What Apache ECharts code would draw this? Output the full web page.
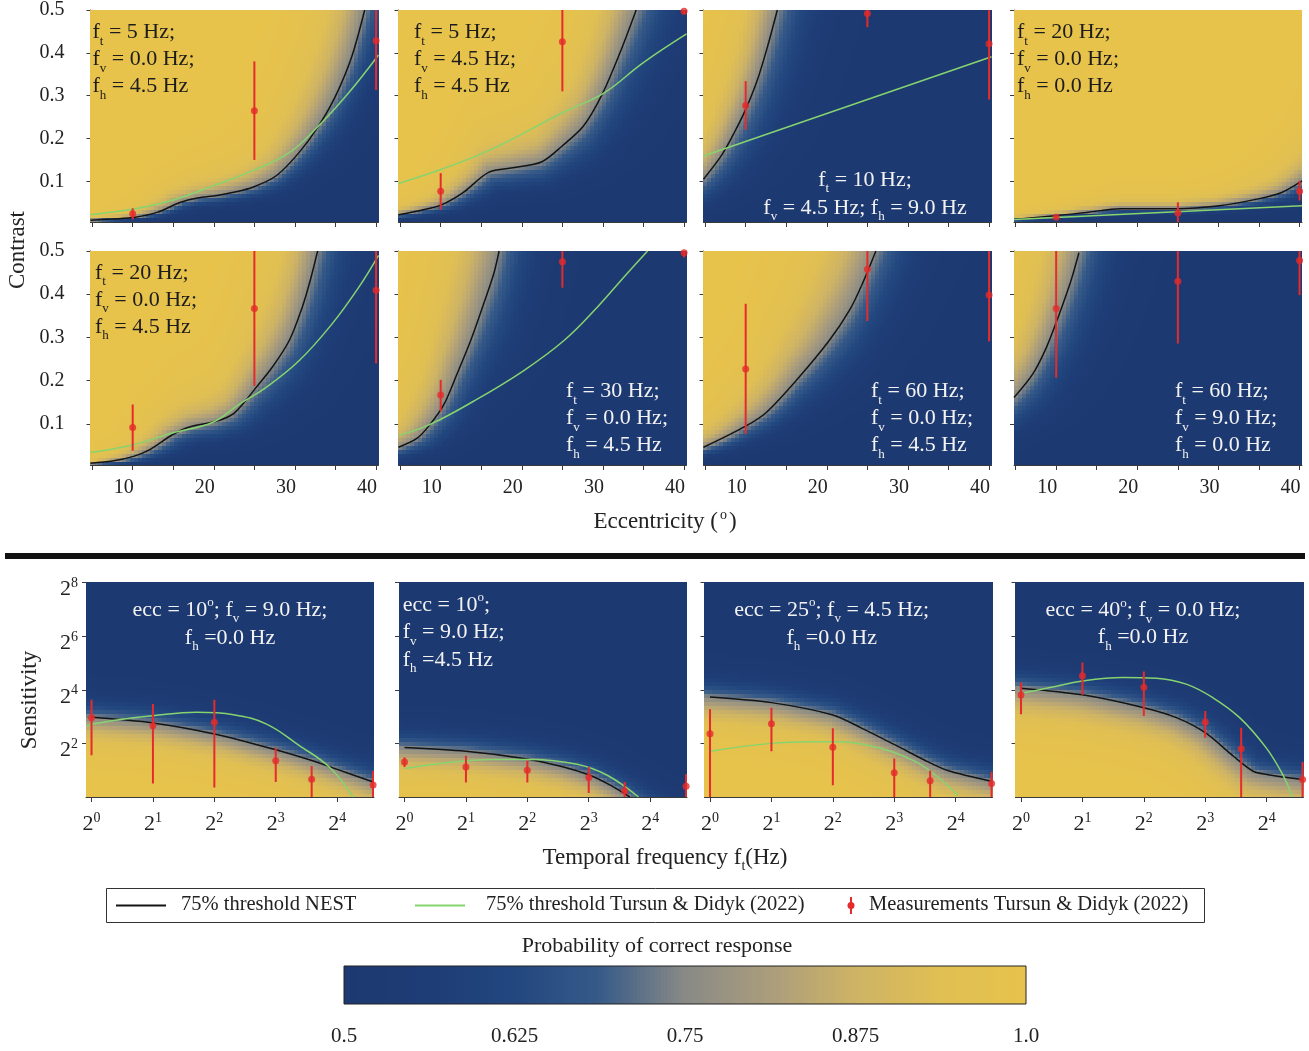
<!DOCTYPE html>
<html>
<head>
<meta charset="utf-8">
<title>NEST vs Tursun &amp; Didyk (2022)</title>
<style>
  html, body { margin: 0; padding: 0; background: #ffffff; }
  #chart { width: 1309px; height: 1051px; }
</style>
<script src="https://cdn.jsdelivr.net/npm/echarts@6.0.0/dist/echarts.min.js"></script>
</head>
<body>
<div id="chart"></div>
<script>
// ---------------------------------------------------------------------------
// Tick values
// ---------------------------------------------------------------------------
const ECC_TICKS = [5, 10, 15, 20, 25, 30, 35, 40];
const ECC_LABELS = [10, 20, 30, 40];
const CONTRAST_TICKS = [0.1, 0.2, 0.3, 0.4, 0.5];
const FREQ_TICKS_LOG2 = [0, 1, 2, 3, 4];
const SENS_TICKS_LOG2 = [2, 4, 6, 8];
const PROB_TICKS = [0.5, 0.625, 0.75, 0.875, 1.0];
const PROB_LABELS = ['0.5', '0.625', '0.75', '0.875', '1.0'];

// ---------------------------------------------------------------------------
// Contrast vs eccentricity panels
//   threshold curves: [eccentricity (deg), contrast]
//   measurements:     [eccentricity, contrast, lower, upper]
// ---------------------------------------------------------------------------
const NEST_A1 = [[4.8, 0.009], [7.5, 0.012], [10.3, 0.016], [13.1, 0.028], [15.9, 0.051], [18, 0.061], [20.4, 0.067], [22.6, 0.075], [24.8, 0.086], [27.7, 0.113], [30.5, 0.167], [32.9, 0.229], [35.0, 0.299], [37.0, 0.391], [38.6, 0.50]];
const TD_A1 = [[4.8, 0.022], [10.3, 0.036], [15.1, 0.057], [20, 0.090], [24.8, 0.125], [29.3, 0.167], [32.9, 0.229], [36.6, 0.306], [40.3, 0.395]];
const MEAS_A1 = [[10, 0.024, 0.011, 0.037], [25, 0.265, 0.150, 0.380], [40, 0.428, 0.313, 0.52]];

const NEST_A2 = [[4.8, 0.022], [7.5, 0.032], [10.1, 0.045], [12.8, 0.074], [15.9, 0.121], [19.1, 0.132], [22.4, 0.145], [25, 0.183], [27.6, 0.229], [29.9, 0.303], [32.1, 0.40], [34.1, 0.50]];
const TD_A2 = [[4.8, 0.095], [10.1, 0.128], [16.3, 0.175], [25, 0.26], [30.1, 0.306], [34.9, 0.376], [40.3, 0.444]];
const MEAS_A2 = [[10, 0.077, 0.034, 0.119], [25, 0.426, 0.31, 0.52], [40, 0.497, 0.49, 0.52]];

const NEST_A3 = [[4.8, 0.105], [7, 0.16], [8.6, 0.214], [10, 0.268], [11.45, 0.337], [12.7, 0.415], [13.9, 0.50]];
const TD_A3 = [[4.8, 0.159], [40.3, 0.391]];
const MEAS_A3 = [[10, 0.277, 0.221, 0.334], [25, 0.492, 0.46, 0.52], [40, 0.421, 0.291, 0.52]];

const NEST_A4 = [[4.8, 0.011], [10.2, 0.020], [14, 0.028], [17.9, 0.036], [24.8, 0.036], [30.1, 0.043], [34.9, 0.059], [37.8, 0.074], [40.3, 0.101]];
const TD_A4 = [[4.8, 0.011], [40.3, 0.043]];
const MEAS_A4 = [[10, 0.016, 0.012, 0.020], [25, 0.026, 0.001, 0.051], [40, 0.077, 0.055, 0.101]];

const NEST_A5 = [[4.8, 0.009], [7.5, 0.014], [10.1, 0.025], [12.05, 0.040], [14.9, 0.075], [17, 0.093], [20.3, 0.106], [22.3, 0.122], [23.7, 0.149], [25.2, 0.184], [27.2, 0.231], [29.3, 0.293], [30.9, 0.37], [31.9, 0.433], [32.8, 0.50]];
const TD_A5 = [[4.8, 0.034], [10.1, 0.052], [14.9, 0.079], [19.9, 0.104], [23.1, 0.145], [26.4, 0.184], [30.5, 0.246], [34.6, 0.332], [37.9, 0.417], [40.3, 0.49]];
const MEAS_A5 = [[10, 0.092, 0.038, 0.145], [25, 0.367, 0.188, 0.52], [40, 0.409, 0.24, 0.52]];

const NEST_A6 = [[4.8, 0.046], [7.1, 0.067], [8.7, 0.099], [10.4, 0.145], [12, 0.215], [13.7, 0.293], [15.3, 0.378], [16.55, 0.448], [17.2, 0.50]];
const TD_A6 = [[4.8, 0.073], [8.7, 0.099], [14.1, 0.153], [20.2, 0.223], [25.2, 0.293], [29.3, 0.37], [32.6, 0.44], [35.5, 0.50]];
const MEAS_A6 = [[10, 0.167, 0.129, 0.202], [25, 0.475, 0.415, 0.52], [40, 0.496, 0.485, 0.51]];

const NEST_A7 = [[4.8, 0.046], [10, 0.095], [12.5, 0.126], [16.2, 0.2], [20.3, 0.293], [22.8, 0.363], [24.4, 0.425], [26.05, 0.50]];
const MEAS_A7 = [[10, 0.227, 0.077, 0.378], [25, 0.458, 0.338, 0.52], [40, 0.398, 0.291, 0.52]];

const NEST_A8 = [[4.8, 0.161], [7.1, 0.215], [8.8, 0.277], [10.4, 0.355], [11.85, 0.433], [12.8, 0.496]];
const MEAS_A8 = [[10, 0.367, 0.207, 0.52], [25, 0.43, 0.286, 0.52], [40, 0.478, 0.398, 0.52]];

// ---------------------------------------------------------------------------
// Sensitivity vs temporal frequency panels (both axes in log2 units)
//   threshold curves: [log2 f_t, log2 sensitivity]
//   measurements:     [log2 f_t, log2 sensitivity, lower, upper]
// ---------------------------------------------------------------------------
const NEST_B1 = [[0, 2.97], [1, 2.76], [2, 2.35], [3, 1.76], [3.6, 1.35], [3.99, 1.04], [4.59, 0.56]];
const TD_B1 = [[-0.09, 2.66], [0.41, 2.87], [1, 3.03], [1.71, 3.16], [2.31, 3.07], [2.85, 2.72], [3.39, 1.91], [3.88, 1.1], [4.26, 0]];
const MEAS_B1 = [[0, 2.96, 1.56, 3.63], [1, 2.66, 0.5, 3.47], [2, 2.79, 0.35, 3.63], [3, 1.35, 0.56, 1.84], [3.585, 0.66, 0, 1.16], [4.585, 0.45, 0, 0.97]];

const NEST_B2 = [[0, 1.85], [1, 1.71], [1.94, 1.44], [2.59, 1.12], [3.02, 0.81], [3.35, 0.44], [3.67, 0]];
const TD_B2 = [[0, 1.06], [0.58, 1.25], [1.4, 1.4], [2.05, 1.4], [2.81, 1.22], [3.3, 0.81], [3.81, 0]];
const MEAS_B2 = [[0, 1.31, 1.12, 1.47], [1, 1.12, 0.54, 1.54], [2, 1.0, 0.54, 1.35], [3, 0.73, 0.15, 1.12], [3.585, 0.22, 0, 0.56], [4.585, 0.4, 0, 0.85]];

const NEST_B3 = [[0, 3.73], [1, 3.52], [2, 3.06], [2.46, 2.58], [3, 1.96], [3.55, 1.31], [3.87, 0.99], [4.58, 0.59]];
const TD_B3 = [[0, 1.71], [1, 2.0], [1.6, 2.06], [2.08, 2.06], [2.79, 1.81], [3.33, 1.34], [3.66, 0.84], [4.04, 0.06]];
const MEAS_B3 = [[0, 2.36, 0, 3.27], [1, 2.73, 1.71, 3.33], [2, 1.86, 0.44, 2.56], [3, 0.9, 0, 1.44], [3.585, 0.61, 0, 0.99], [4.585, 0.5, 0, 0.93]];

const NEST_B4 = [[0, 4.06], [1, 3.81], [2, 3.33], [2.53, 2.96], [3, 2.4], [3.46, 1.52], [3.78, 0.96], [4.0, 0.84], [4.58, 0.65]];
const TD_B4 = [[0, 3.86], [0.47, 4.08], [1, 4.33], [1.66, 4.46], [2.2, 4.43], [2.69, 4.21], [3.12, 3.71], [3.56, 2.96], [3.99, 1.84], [4.26, 0.84], [4.42, 0]];
const MEAS_B4 = [[0, 3.8, 3.09, 4.27], [1, 4.52, 3.81, 5.02], [2, 4.09, 3.02, 4.68], [3, 2.8, 2.21, 3.21], [3.585, 1.8, 0, 2.58], [4.585, 0.65, 0, 1.31]];

// ---------------------------------------------------------------------------
// Styling
// ---------------------------------------------------------------------------
const FONT = '"Liberation Serif", "Times New Roman", Times, serif';
const DARK = '#1c1c1c';
const LIGHT = '#f2f2f2';
const NEST_COLOR = '#141414';
const TD_COLOR = '#86d46f';
const MEAS_COLOR = '#e52b2b';
const COLORMAP = ['#1d3971', '#1e3c76', '#22477f', '#365a88', '#888a86', '#ab9d7c', '#cdb366', '#e0bf53', '#e7c34c'];

const CONTRAST_X = [4.8, 40.3];
const CONTRAST_Y = [0.005, 0.5];
const FREQ_X = [-0.09, 4.6];
const SENS_Y = [0, 8];

// rich-text fragments for the panel annotations
const f = (s, rest) => '{m|f}{sub|' + s + '}{m|' + rest + '}';
const deg = (n) => '{m|' + n + '}{sup|o}';

const PANELS = [
  // row 1
  { kind: 'c', left: 90.5, top: 10, w: 288, h: 212, nest: NEST_A1, td: TD_A1, meas: MEAS_A1, xLab: false, yLab: true, blend: [12, 10],
    ann: { x: 92.5, y: 19, align: 'left', color: DARK, lh: 27, lines: [f('t', ' = 5 Hz;'), f('v', ' = 0.0 Hz;'), f('h', ' = 4.5 Hz')] } },
  { kind: 'c', left: 398.5, top: 10, w: 288, h: 212, nest: NEST_A2, td: TD_A2, meas: MEAS_A2, xLab: false, yLab: false, blend: [11, 13],
    ann: { x: 414, y: 19, align: 'left', color: DARK, lh: 27, lines: [f('t', ' = 5 Hz;'), f('v', ' = 4.5 Hz;'), f('h', ' = 4.5 Hz')] } },
  { kind: 'c', left: 703.5, top: 10, w: 288, h: 212, nest: NEST_A3, td: TD_A3, meas: MEAS_A3, xLab: false, yLab: false, blend: [11, 15],
    ann: { x: 865, y: 166, align: 'center', color: LIGHT, lh: 28, lines: [f('t', ' = 10 Hz;'), f('v', ' = 4.5 Hz; ') + f('h', ' = 9.0 Hz')] } },
  { kind: 'c', left: 1014, top: 10, w: 288, h: 212, nest: NEST_A4, td: TD_A4, meas: MEAS_A4, xLab: false, yLab: false, blend: [11, 9],
    ann: { x: 1017, y: 19, align: 'left', color: DARK, lh: 27, lines: [f('t', ' = 20 Hz;'), f('v', ' = 0.0 Hz;'), f('h', ' = 0.0 Hz')] } },
  // row 2
  { kind: 'c', left: 90.5, top: 251, w: 288, h: 214, nest: NEST_A5, td: TD_A5, meas: MEAS_A5, xLab: true, yLab: true, blend: [12, 14],
    ann: { x: 95, y: 259.5, align: 'left', color: DARK, lh: 27, lines: [f('t', ' = 20 Hz;'), f('v', ' = 0.0 Hz;'), f('h', ' = 4.5 Hz')] } },
  { kind: 'c', left: 398.5, top: 251, w: 288, h: 214, nest: NEST_A6, td: TD_A6, meas: MEAS_A6, xLab: true, yLab: false, blend: [15, 15],
    ann: { x: 566, y: 378, align: 'left', color: LIGHT, lh: 27, lines: [f('t', ' = 30 Hz;'), f('v', ' = 0.0 Hz;'), f('h', ' = 4.5 Hz')] } },
  { kind: 'c', left: 703.5, top: 251, w: 288, h: 214, nest: NEST_A7, td: null, meas: MEAS_A7, xLab: true, yLab: false, blend: [13, 12],
    ann: { x: 871, y: 378, align: 'left', color: LIGHT, lh: 27, lines: [f('t', ' = 60 Hz;'), f('v', ' = 0.0 Hz;'), f('h', ' = 4.5 Hz')] } },
  { kind: 'c', left: 1014, top: 251, w: 288, h: 214, nest: NEST_A8, td: null, meas: MEAS_A8, xLab: true, yLab: false, blend: [12, 14],
    ann: { x: 1175, y: 378, align: 'left', color: LIGHT, lh: 27, lines: [f('t', ' = 60 Hz;'), f('v', ' = 9.0 Hz;'), f('h', ' = 0.0 Hz')] } },
  // row 3
  { kind: 's', left: 86, top: 582.5, w: 288, h: 214.5, nest: NEST_B1, td: TD_B1, meas: MEAS_B1, xLab: true, yLab: true, blend: [12, 11],
    ann: { x: 230, y: 596, align: 'center', color: LIGHT, lh: 28, lines: ['{m|ecc = }' + deg(10) + '{m|; }' + f('v', ' = 9.0 Hz;'), f('h', ' =0.0 Hz')] } },
  { kind: 's', left: 399, top: 582.5, w: 288, h: 214.5, nest: NEST_B2, td: TD_B2, meas: MEAS_B2, xLab: true, yLab: false, blend: [12, 11],
    ann: { x: 402.7, y: 591, align: 'left', color: LIGHT, lh: 27.5, lines: ['{m|ecc = }' + deg(10) + '{m|;}', f('v', ' = 9.0 Hz;'), f('h', ' =4.5 Hz')] } },
  { kind: 's', left: 704.5, top: 582.5, w: 288, h: 214.5, nest: NEST_B3, td: TD_B3, meas: MEAS_B3, xLab: true, yLab: false, blend: [13, 11],
    ann: { x: 831.7, y: 596, align: 'center', color: LIGHT, lh: 28, lines: ['{m|ecc = }' + deg(25) + '{m|; }' + f('v', ' = 4.5 Hz;'), f('h', ' =0.0 Hz')] } },
  { kind: 's', left: 1015.5, top: 582.5, w: 288, h: 214.5, nest: NEST_B4, td: TD_B4, meas: MEAS_B4, xLab: true, yLab: false, blend: [15, 11],
    ann: { x: 1143, y: 597, align: 'center', color: LIGHT, lh: 27, lines: ['{m|ecc = }' + deg(40) + '{m|; }' + f('v', ' = 0.0 Hz;'), f('h', ' =0.0 Hz')] } }
];

// ---------------------------------------------------------------------------
// Probability of a correct response around the 75% threshold curve:
// a psychometric transition across the curve. Distances are taken in a
// screen-like space (log contrast for the contrast panels, where the
// thresholds act multiplicatively).
// side = +1: detection improves above/left of the curve; -1: below it.
// ---------------------------------------------------------------------------
function probabilityField(curve, xr, yr, W, H, logY, side, wPos, wNeg) {
  const sx = W / (xr[1] - xr[0]);
  const toPx = (x) => (x - xr[0]) * sx;
  const toPy = logY
    ? (y) => Math.log(y / yr[0]) / Math.log(yr[1] / yr[0]) * H
    : (y) => (y - yr[0]) / (yr[1] - yr[0]) * H;
  const pts = curve.map(([x, y]) => [toPx(x), toPy(y)]);
  const extend = (a, b) => {
    const dx = b[0] - a[0], dy = b[1] - a[1], L = Math.hypot(dx, dy) || 1;
    return [b[0] + dx / L * 900, b[1] + dy / L * 900];
  };
  pts.unshift(extend(pts[1], pts[0]));
  pts.push(extend(pts[pts.length - 2], pts[pts.length - 1]));
  const nx = Math.round(W / 4), ny = Math.round(H / 4);
  const dxv = (xr[1] - xr[0]) / nx, dyv = (yr[1] - yr[0]) / ny;
  const cells = [];
  for (let i = 0; i < nx; i++) {
    for (let j = 0; j < ny; j++) {
      const cx = xr[0] + (i + 0.5) * dxv;
      const cy = yr[0] + (j + 0.5) * dyv;
      const px = toPx(cx), py = toPy(cy);
      let best = Infinity, sgn = 1;
      for (let k = 0; k < pts.length - 1; k++) {
        const ax = pts[k][0], ay = pts[k][1];
        const vx = pts[k + 1][0] - ax, vy = pts[k + 1][1] - ay;
        const len2 = vx * vx + vy * vy || 1;
        let t = ((px - ax) * vx + (py - ay) * vy) / len2;
        t = t < 0 ? 0 : (t > 1 ? 1 : t);
        const d = Math.hypot(ax + t * vx - px, ay + t * vy - py);
        if (d < best) {
          best = d;
          sgn = (vx * (py - ay) - vy * (px - ax)) >= 0 ? 1 : -1;
        }
      }
      const d = side * sgn * best;
      const w = d > 0 ? wPos : wNeg;
      cells.push([cx, cy, 0.5 + 0.5 / (1 + Math.exp(-d / w)), dxv / 2, dyv / 2]);
    }
  }
  return cells;
}

function renderCell(params, api) {
  const x = api.value(0), y = api.value(1), hw = api.value(3), hh = api.value(4);
  const a = api.coord([x - hw, y + hh]);
  const b = api.coord([x + hw, y - hh]);
  const x0 = Math.floor(a[0]), y0 = Math.floor(a[1]);
  return {
    type: 'rect',
    shape: { x: x0, y: y0, width: Math.ceil(b[0]) - x0, height: Math.ceil(b[1]) - y0 },
    style: { fill: api.visual('color') }
  };
}

function renderErrorBar(params, api) {
  const lo = api.coord([api.value(0), api.value(2)]);
  const hi = api.coord([api.value(0), api.value(3)]);
  return {
    type: 'line',
    shape: { x1: lo[0], y1: lo[1], x2: hi[0], y2: hi[1] },
    style: { stroke: MEAS_COLOR, lineWidth: 2 }
  };
}

const axisLineStyle = { color: '#3a3a3a', width: 1 };
const tickLabelStyle = { fontFamily: FONT, fontSize: 20, color: '#222' };
const powRich = {
  b: { fontFamily: FONT, fontSize: 22, color: '#222', verticalAlign: 'bottom' },
  s: { fontFamily: FONT, fontSize: 14, color: '#222', verticalAlign: 'bottom', padding: [0, 0, 10, 0] }
};
const powLabel = (v) => '{b|2}{s|' + v + '}';

const grids = [], xAxes = [], yAxes = [], series = [], fieldIdx = [], graphics = [];

PANELS.forEach((P, gi) => {
  const isC = P.kind === 'c';
  const xr = isC ? CONTRAST_X : FREQ_X;
  const yr = isC ? CONTRAST_Y : SENS_Y;
  grids.push({ left: P.left, top: P.top, width: P.w, height: P.h, outerBoundsMode: 'none' });

  xAxes.push({
    type: 'value', gridIndex: gi, min: xr[0], max: xr[1],
    splitLine: { show: false },
    axisLine: { show: true, onZero: false, lineStyle: axisLineStyle },
    axisTick: { show: true, length: 5, customValues: isC ? ECC_TICKS : FREQ_TICKS_LOG2, lineStyle: axisLineStyle },
    axisLabel: isC
      ? Object.assign({ show: P.xLab, customValues: ECC_LABELS, margin: 13, padding: [0, 18, 0, 0] }, tickLabelStyle)
      : { show: P.xLab, customValues: FREQ_TICKS_LOG2, margin: 14, formatter: powLabel, rich: powRich }
  });
  yAxes.push({
    type: 'value', gridIndex: gi, min: yr[0], max: yr[1],
    splitLine: { show: false },
    axisLine: { show: true, onZero: false, lineStyle: axisLineStyle },
    axisTick: { show: true, length: 4, customValues: isC ? CONTRAST_TICKS : SENS_TICKS_LOG2, lineStyle: axisLineStyle },
    axisLabel: isC
      ? Object.assign({ show: P.yLab, customValues: CONTRAST_TICKS, margin: 26, formatter: (v) => v.toFixed(1) }, tickLabelStyle)
      : { show: P.yLab, customValues: SENS_TICKS_LOG2, margin: 8, padding: [12, 0, 0, 0], formatter: powLabel, rich: powRich }
  });

  fieldIdx.push(series.length);
  series.push({
    type: 'custom', name: 'Probability of correct response', xAxisIndex: gi, yAxisIndex: gi,
    dimensions: ['x', 'y', 'p', 'hw', 'hh'], encode: { x: 0, y: 1 },
    data: probabilityField(P.nest, xr, yr, P.w, P.h, isC, isC ? 1 : -1, P.blend[0], P.blend[1]),
    renderItem: renderCell, clip: true, silent: true, z: 1
  });
  series.push({
    type: 'line', name: '75% threshold NEST', xAxisIndex: gi, yAxisIndex: gi, data: P.nest,
    showSymbol: false, symbol: 'none', smooth: 0.3, clip: true, silent: true, z: 3,
    lineStyle: { color: NEST_COLOR, width: 1.5 }
  });
  if (P.td) {
    series.push({
      type: 'line', name: '75% threshold Tursun & Didyk (2022)', xAxisIndex: gi, yAxisIndex: gi, data: P.td,
      showSymbol: false, symbol: 'none', smooth: 0.4, clip: true, silent: true, z: 4,
      lineStyle: { color: TD_COLOR, width: 1.5 }
    });
  }
  series.push({
    type: 'custom', name: 'Measurements Tursun & Didyk (2022)', xAxisIndex: gi, yAxisIndex: gi,
    dimensions: ['x', 'y', 'lo', 'hi'], encode: { x: 0, y: 1 },
    data: P.meas, renderItem: renderErrorBar, clip: true, silent: true, z: 5
  });
  series.push({
    type: 'scatter', name: 'Measurements Tursun & Didyk (2022)', xAxisIndex: gi, yAxisIndex: gi,
    data: P.meas.map((m) => [m[0], m[1]]), symbol: 'circle', symbolSize: 7, clip: true, silent: true, z: 6,
    itemStyle: { color: MEAS_COLOR }
  });

  // panel annotation
  const A = P.ann;
  const richFor = (color, lh) => ({
    m: { fontFamily: FONT, fontSize: 22, fill: color, color, lineHeight: lh },
    sub: { fontFamily: FONT, fontSize: 13, fill: color, color, lineHeight: lh, padding: [18, 0, 0, 0] },
    sup: { fontFamily: FONT, fontSize: 13, fill: color, color, lineHeight: lh, padding: [0, 0, 14, 0] }
  });
  graphics.push({
    type: 'text', x: A.x, y: A.y, z: 20, silent: true,
    style: {
      text: A.lines.join('\n'), rich: richFor(A.color, A.lh),
      fontFamily: FONT, fontSize: 22, fill: A.color, lineHeight: A.lh,
      align: A.align, verticalAlign: 'top'
    }
  });
});

// ---------------------------------------------------------------------------
// Colour bar: one row of cells across the probability range
// ---------------------------------------------------------------------------
const CB = { left: 344, top: 966, width: 682, height: 38 };
const cbIndex = grids.length;
grids.push({ left: CB.left, top: CB.top, width: CB.width, height: CB.height, outerBoundsMode: 'none' });
xAxes.push({
  type: 'value', gridIndex: cbIndex, min: PROB_TICKS[0], max: PROB_TICKS[PROB_TICKS.length - 1],
  splitLine: { show: false }, axisLine: { show: false }, axisTick: { show: false },
  axisLabel: {
    customValues: PROB_TICKS, margin: 22, fontSize: 21, fontFamily: FONT, color: '#222',
    formatter: (v) => PROB_LABELS[PROB_TICKS.findIndex((t) => Math.abs(t - v) < 1e-9)]
  }
});
yAxes.push({ type: 'value', gridIndex: cbIndex, min: 0, max: 1, show: false });
const cbCells = [];
const cbStep = 0.0025;
for (let v = PROB_TICKS[0] + cbStep / 2; v < PROB_TICKS[PROB_TICKS.length - 1]; v += cbStep) {
  cbCells.push([v, 0.5, v, cbStep / 2, 0.5]);
}
fieldIdx.push(series.length);
series.push({
  type: 'custom', xAxisIndex: cbIndex, yAxisIndex: cbIndex,
  dimensions: ['x', 'y', 'p', 'hw', 'hh'], encode: { x: 0, y: 1 },
  data: cbCells, renderItem: renderCell, clip: true, silent: true, z: 1
});

// ---------------------------------------------------------------------------
// Titles, separator and legend
// ---------------------------------------------------------------------------
const titleRich = {
  a: { fontFamily: FONT, fontSize: 23, fill: '#222', color: '#222' },
  s: { fontFamily: FONT, fontSize: 14, fill: '#222', color: '#222', padding: [0, 2, 14, 2] },
  b: { fontFamily: FONT, fontSize: 14, fill: '#222', color: '#222', padding: [16, 0, 0, 0] }
};
graphics.push(
  { type: 'rect', silent: true, z: 20, shape: { x: 5, y: 553, width: 1300, height: 6 }, style: { fill: '#111' } },
  { type: 'text', silent: true, z: 20, x: 18, y: 250, rotation: Math.PI / 2,
    style: { text: 'Contrast', fontFamily: FONT, fontSize: 23, fill: '#222', align: 'center', verticalAlign: 'middle' } },
  { type: 'text', silent: true, z: 20, x: 665, y: 522,
    style: { text: '{a|Eccentricity (}{s|o}{a|)}', rich: titleRich, align: 'center', verticalAlign: 'middle' } },
  { type: 'text', silent: true, z: 20, x: 30, y: 700, rotation: Math.PI / 2,
    style: { text: 'Sensitivity', fontFamily: FONT, fontSize: 23, fill: '#222', align: 'center', verticalAlign: 'middle' } },
  { type: 'text', silent: true, z: 20, x: 665, y: 858,
    style: { text: '{a|Temporal frequency f}{b|t}{a|(Hz)}', rich: titleRich, align: 'center', verticalAlign: 'middle' } },
  { type: 'text', silent: true, z: 20, x: 657, y: 946,
    style: { text: 'Probability of correct response', fontFamily: FONT, fontSize: 22, fill: '#222', align: 'center', verticalAlign: 'middle' } },
  { type: 'rect', silent: true, z: 20, shape: { x: CB.left, y: CB.top, width: CB.width, height: CB.height },
    style: { fill: 'none', stroke: '#222', lineWidth: 1 } },
  // legend
  { type: 'rect', silent: true, z: 20, shape: { x: 106.5, y: 888.5, width: 1098, height: 34 },
    style: { fill: '#fff', stroke: '#333', lineWidth: 1 } },
  { type: 'line', silent: true, z: 21, shape: { x1: 116, y1: 905.5, x2: 166, y2: 905.5 },
    style: { stroke: NEST_COLOR, lineWidth: 2 } },
  { type: 'text', silent: true, z: 21, x: 181, y: 905,
    style: { text: '75% threshold NEST', fontFamily: FONT, fontSize: 20.5, fill: '#222', align: 'left', verticalAlign: 'middle' } },
  { type: 'line', silent: true, z: 21, shape: { x1: 415, y1: 905.5, x2: 465, y2: 905.5 },
    style: { stroke: TD_COLOR, lineWidth: 2 } },
  { type: 'text', silent: true, z: 21, x: 486, y: 905,
    style: { text: '75% threshold Tursun & Didyk (2022)', fontFamily: FONT, fontSize: 20.5, fill: '#222', align: 'left', verticalAlign: 'middle' } },
  { type: 'line', silent: true, z: 21, shape: { x1: 851, y1: 897, x2: 851, y2: 914 },
    style: { stroke: MEAS_COLOR, lineWidth: 2 } },
  { type: 'circle', silent: true, z: 22, shape: { cx: 851, cy: 905.5, r: 3.5 }, style: { fill: MEAS_COLOR } },
  { type: 'text', silent: true, z: 21, x: 869, y: 905,
    style: { text: 'Measurements Tursun & Didyk (2022)', fontFamily: FONT, fontSize: 20.5, fill: '#222', align: 'left', verticalAlign: 'middle' } }
);

const chart = echarts.init(document.getElementById('chart'), null, { renderer: 'canvas' });
chart.setOption({
  backgroundColor: '#ffffff',
  animation: false,
  grid: grids,
  xAxis: xAxes,
  yAxis: yAxes,
  visualMap: {
    type: 'continuous', show: false, min: 0.5, max: 1.0, dimension: 2,
    seriesIndex: fieldIdx, inRange: { color: COLORMAP }
  },
  series: series,
  graphic: { elements: graphics }
});
</script>
</body>
</html>
